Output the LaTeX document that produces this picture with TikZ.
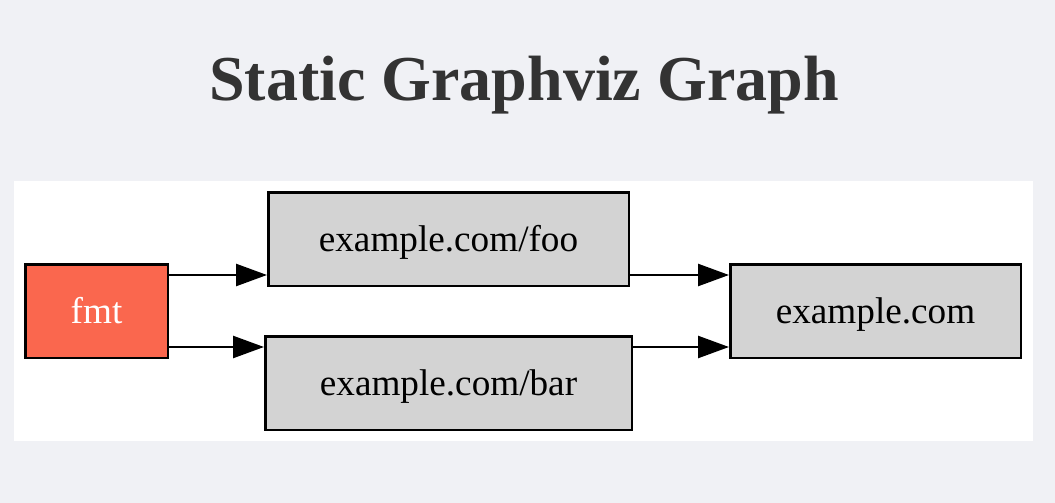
\documentclass[tikz,border=0pt]{standalone}
\usepackage{fontspec}
\setmainfont{Liberation Serif}
\usetikzlibrary{arrows.meta}
\definecolor{bgc}{HTML}{F0F1F5}
\definecolor{titlec}{HTML}{333333}
\definecolor{tomatoc}{HTML}{FA674E}
\definecolor{grayc}{HTML}{D3D3D3}
\tikzset{
  gvbox/.style={draw=black, line width=2.5pt, rectangle, minimum height=93.5pt,
    text height=24pt, text depth=0pt, inner sep=0pt,
    font=\fontsize{37.2}{44}\selectfont},
  edge/.style={line width=2.5pt, -{Triangle[length=31pt,width=22pt]}}
}
\begin{document}
\begin{tikzpicture}[x=1pt,y=-1pt]
\useasboundingbox (0,0) rectangle (1055,503);
\fill[bgc] (0,0) rectangle (1055,503);
\fill[white] (14,181) rectangle (1033,441);
\node[anchor=base, text=titlec, inner sep=0pt, font=\fontsize{64}{76}\selectfont\bfseries] (title) at (524,100) {Static Graphviz Graph};
\node[gvbox, fill=tomatoc, text=white, minimum width=142.5pt] (fmt) at (96.5,311) {fmt};
\node[gvbox, fill=grayc, minimum width=360.5pt] (foo) at (448.5,239) {example.com/foo};
\node[gvbox, fill=grayc, minimum width=366.5pt] (bar) at (448.5,383) {example.com/bar};
\node[gvbox, fill=grayc, minimum width=290.5pt] (com) at (875.5,311) {example.com};
\draw[edge] ([yshift=36pt]fmt.east) -- ([yshift=36pt]fmt.east -| foo.west);
\draw[edge] ([yshift=-36pt]fmt.east) -- ([yshift=-36pt]fmt.east -| bar.west);
\draw[edge] ([yshift=36pt]fmt.east -| foo.east) -- ([yshift=36pt]com.west);
\draw[edge] ([yshift=-36pt]fmt.east -| bar.east) -- ([yshift=-36pt]com.west);
\end{tikzpicture}
\end{document}
